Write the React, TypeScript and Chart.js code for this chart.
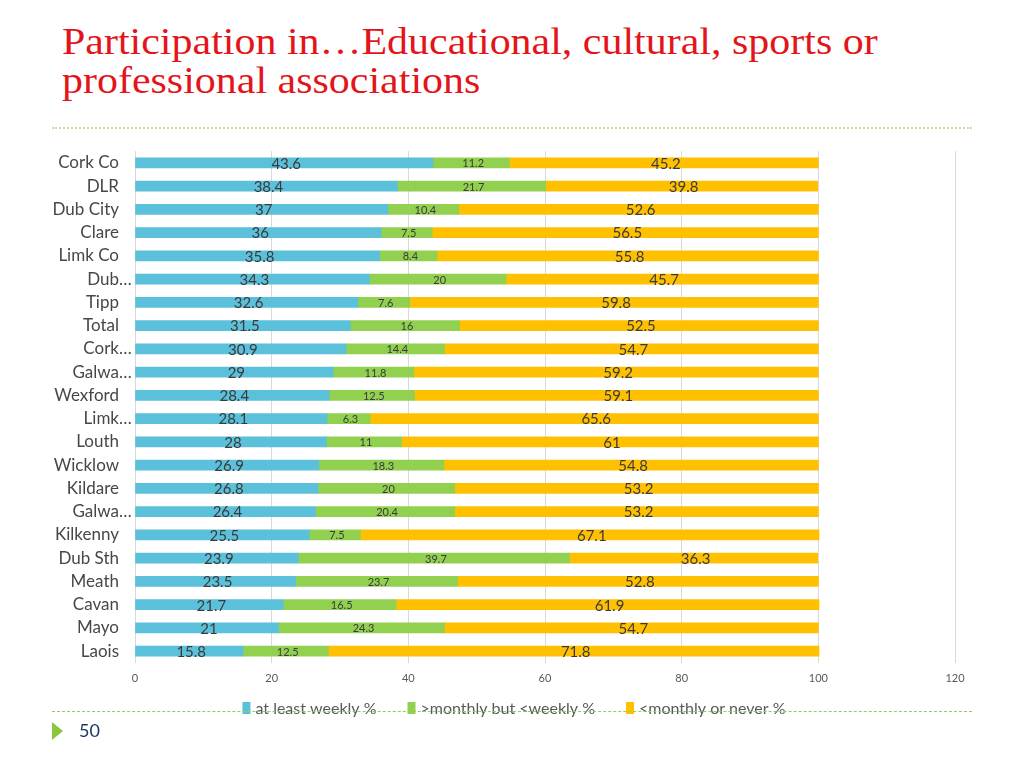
import React, { useEffect, useRef } from "react";
import { Chart, registerables } from "chart.js";

Chart.register(...registerables);

const categories = [
  "Cork Co", "DLR", "Dub City", "Clare", "Limk Co", "Dub…", "Tipp", "Total",
  "Cork…", "Galwa…", "Wexford", "Limk…", "Louth", "Wicklow", "Kildare", "Galwa…",
  "Kilkenny", "Dub Sth", "Meath", "Cavan", "Mayo", "Laois",
];
const weekly = [43.6, 38.4, 37, 36, 35.8, 34.3, 32.6, 31.5, 30.9, 29, 28.4, 28.1, 28, 26.9, 26.8, 26.4, 25.5, 23.9, 23.5, 21.7, 21, 15.8];
const monthly = [11.2, 21.7, 10.4, 7.5, 8.4, 20, 7.6, 16, 14.4, 11.8, 12.5, 6.3, 11, 18.3, 20, 20.4, 7.5, 39.7, 23.7, 16.5, 24.3, 12.5];
const rarely = [45.2, 39.8, 52.6, 56.5, 55.8, 45.7, 59.8, 52.5, 54.7, 59.2, 59.1, 65.6, 61, 54.8, 53.2, 53.2, 67.1, 36.3, 52.8, 61.9, 54.7, 71.8];
const seriesNames = ["at least weekly %", ">monthly but <weekly %", "<monthly or never %"];
const seriesColors = ["#5BC0DA", "#92D050", "#FFC000"];
const xMin = 0;
const xMax = 120;
const xStep = 20;

const FONT = "Lato, 'Open Sans', sans-serif";
const CANVAS_TOP = 125;
const LABEL_COLOR = "#474747";
const Y_PAD = 16;

const isTruncated = (s: string) => s.endsWith("…");

const valueLabels = {
  id: "valueLabels",
  afterDatasetsDraw(chart: any) {
    const ctx = chart.ctx;
    chart.data.datasets.forEach((ds: any, i: number) => {
      const meta = chart.getDatasetMeta(i);
      const size = i === 1 ? 11 : 15;
      ctx.save();
      ctx.font = `${size}px ${FONT}`;
      ctx.fillStyle = "#3a3a3a";
      ctx.textAlign = "center";
      ctx.textBaseline = "middle";
      meta.data.forEach((el: any, j: number) => {
        const p = el.getProps(["x", "base", "y"], true);
        ctx.fillText(String(ds.data[j]), (p.x + p.base) / 2 + 2, p.y + 1);
      });
      ctx.restore();
    });
  },
};

// truncated category labels: text right-aligned like the others, ellipsis running on toward the axis
const truncatedLabels = {
  id: "truncatedLabels",
  afterDraw(chart: any) {
    const ctx = chart.ctx;
    const scale = chart.scales.y;
    const right = chart.chartArea.left - Y_PAD;
    ctx.save();
    ctx.font = `17px ${FONT}`;
    ctx.fillStyle = LABEL_COLOR;
    ctx.textBaseline = "middle";
    (chart.data.labels as string[]).forEach((lab, i) => {
      if (!isTruncated(lab)) return;
      const y = scale.getPixelForTick(i);
      const base = lab.slice(0, -1);
      ctx.textAlign = "right";
      ctx.fillText(base, right, y);
      ctx.textAlign = "left";
      ctx.fillText("…", right, y);
    });
    ctx.restore();
  },
};

// legend drawn on the chart canvas from the datasets
const bottomLegend = {
  id: "bottomLegend",
  afterDraw(chart: any) {
    const ctx = chart.ctx;
    ctx.save();
    ctx.font = `16px ${FONT}`;
    const box = 8;
    const gapText = 5;
    const gapItem = 31;
    const items = chart.data.datasets.map((ds: any) => ({
      text: ds.label,
      color: ds.backgroundColor,
      w: box + gapText + ctx.measureText(ds.label).width,
    }));
    const total = items.reduce((s: number, it: any) => s + it.w, 0) + gapItem * (items.length - 1);
    let x = 514 - total / 2;
    const y = 708 - CANVAS_TOP;
    items.forEach((it: any) => {
      ctx.fillStyle = it.color;
      ctx.fillRect(x, y - 6, box, 12);
      ctx.fillStyle = "#595959";
      ctx.textAlign = "left";
      ctx.textBaseline = "middle";
      ctx.fillText(it.text, x + box + gapText, y + 1);
      x += it.w + gapItem;
    });
    ctx.restore();
  },
};

export default function App() {
  const ref = useRef<HTMLCanvasElement>(null);

  useEffect(() => {
    if (!ref.current) return;
    const chart = new Chart(ref.current, {
      type: "bar",
      data: {
        labels: categories,
        datasets: [weekly, monthly, rarely].map((d, i) => ({
          label: seriesNames[i],
          data: d,
          backgroundColor: seriesColors[i],
          borderWidth: 0,
          barThickness: 10,
        })),
      },
      options: {
        indexAxis: "y",
        animation: false,
        responsive: false,
        layout: { padding: { top: 12, right: 45, left: 0, bottom: 74 } },
        scales: {
          x: {
            stacked: true,
            min: xMin,
            max: xMax,
            border: { display: false },
            grid: { color: "#D9D9D9", drawTicks: false, lineWidth: 1 },
            ticks: {
              stepSize: xStep,
              padding: 9,
              color: "#595959",
              font: { family: FONT, size: 11 },
            },
          },
          y: {
            stacked: true,
            border: { display: false },
            grid: { display: false, drawTicks: false },
            ticks: {
              padding: Y_PAD,
              color: (c: any) => (isTruncated(categories[c.index] || "") ? "rgba(0,0,0,0)" : LABEL_COLOR),
              font: { family: FONT, size: 17 },
              autoSkip: false,
            },
            afterFit: (s: any) => {
              s.width = 135;
            },
          },
        },
        plugins: {
          legend: { display: false },
          tooltip: { enabled: false },
        },
      },
      plugins: [valueLabels, truncatedLabels, bottomLegend],
    } as any);
    return () => chart.destroy();
  }, []);

  return (
    <div style={{ position: "absolute", left: 0, top: 0, width: 1024, height: 768, background: "#fff", overflow: "hidden" }}>
      <div
        style={{
          position: "absolute",
          left: 62,
          top: 22,
          fontFamily: "'Liberation Serif', 'Times New Roman', serif",
          fontSize: 37,
          lineHeight: "39px",
          color: "#E3151A",
          whiteSpace: "nowrap",
          transform: "scaleX(1.134)",
          transformOrigin: "0 0",
        }}
      >
        Participation in…Educational, cultural, sports or
        <br />
        professional associations
      </div>
      <div style={{ position: "absolute", left: 52, top: 127, width: 920, borderTop: "2px dotted #C9DCA8" }} />
      <div style={{ position: "absolute", left: 0, top: CANVAS_TOP, lineHeight: 0 }}>
        <canvas ref={ref} width={1000} height={768 - CANVAS_TOP} />
      </div>
      <div style={{ position: "absolute", left: 52, top: 711, width: 920, borderTop: "1px dashed #92D050" }} />
      <div
        style={{
          position: "absolute",
          left: 52,
          top: 722,
          width: 0,
          height: 0,
          borderTop: "9px solid transparent",
          borderBottom: "9px solid transparent",
          borderLeft: "11px solid #8CC63F",
        }}
      />
      <div
        style={{
          position: "absolute",
          left: 79,
          top: 719,
          fontFamily: FONT,
          fontSize: 18,
          color: "#1F3864",
        }}
      >
        50
      </div>
    </div>
  );
}
